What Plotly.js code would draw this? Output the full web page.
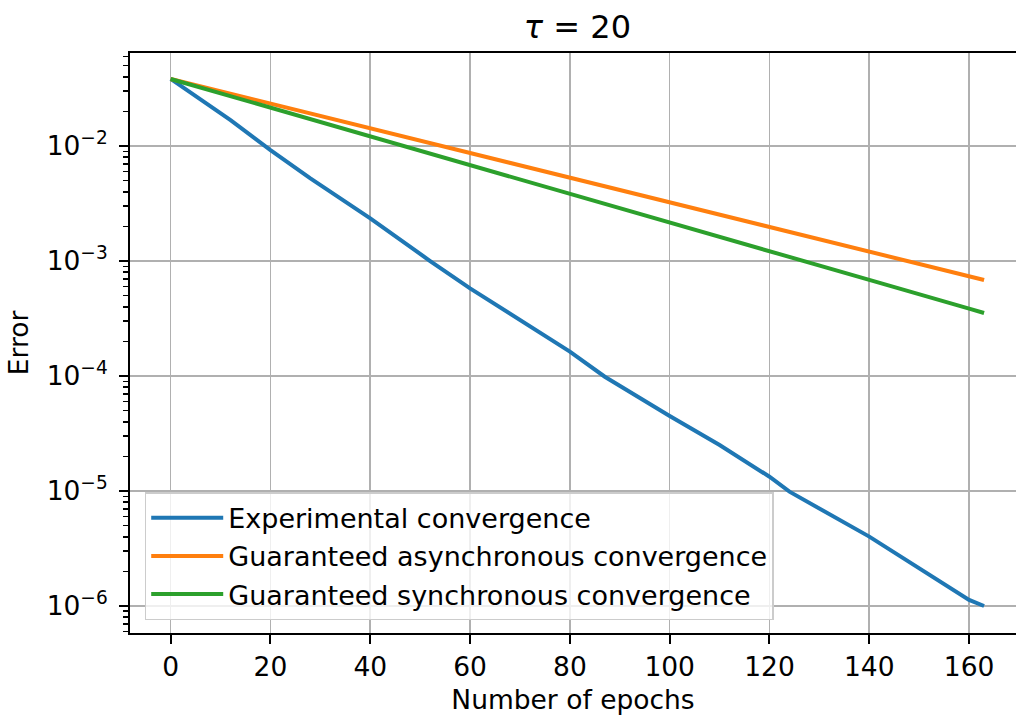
<!DOCTYPE html>
<html>
<head>
<meta charset="utf-8">
<script src="https://cdn.plot.ly/plotly-3.0.1.min.js"></script>
<style>html,body{margin:0;padding:0;background:#fff;}#chart{width:1016px;height:718px;}</style>
</head>
<body>
<div id="chart"></div>
<script>
// ---- data ----
const expEpochs = [0, 5, 12, 20, 28, 40, 46, 52, 60, 66, 73, 80, 87, 100, 110, 120, 124, 140, 160, 163];
const expError  = [0.0383, 0.0269, 0.0168, 0.00923, 0.00524, 0.00235, 0.00152, 0.00100, 5.78e-4, 3.98e-4,
                   2.55e-4, 1.63e-4, 9.86e-5, 4.49e-5, 2.51e-5, 1.33e-5, 9.86e-6, 4.01e-6, 1.13e-6, 1.0e-6];

const guarEpochs = [0, 20, 40, 60, 80, 100, 120, 140, 160, 163];
const asyncError = [0.0383, 0.0234, 0.01426, 0.00871, 0.00531, 0.00324, 0.00198, 0.00121, 7.38e-4, 6.84e-4];
const syncError  = [0.0383, 0.0215, 0.01213, 0.00683, 0.00385, 0.00216, 0.00122, 6.85e-4, 3.86e-4, 3.53e-4];

const seriesNames = ["Experimental convergence", "Guaranteed asynchronous convergence", "Guaranteed synchronous convergence"];
const xTickVals = [0, 20, 40, 60, 80, 100, 120, 140, 160];
const yTickVals = [1e-6, 1e-5, 1e-4, 1e-3, 1e-2];
const yTickText = ["10<sup>\u22126</sup>", "10<sup>\u22125</sup>", "10<sup>\u22124</sup>", "10<sup>\u22123</sup>", "10<sup>\u22122</sup>"];
const titleText = "<i>\u03c4</i> = 20";
const xTitle = "Number of epochs";
const yTitle = "Error";

// minor ticks (2..9 x each decade)
const yMinor = [];
for (let d = -7; d <= -1; d++) for (let k = 2; k <= 9; k++) yMinor.push(k * Math.pow(10, d));

const FONT = "DejaVu Sans";
const FS = 26.5;

const traces = [
  {x: expEpochs, y: expError, name: seriesNames[0], mode: "lines", legendgroup: "a",
   line: {color: "#1f77b4", width: 4}},
  {x: guarEpochs, y: asyncError, name: seriesNames[1], mode: "lines", legendgroup: "b",
   line: {color: "#ff7f0e", width: 4}},
  {x: guarEpochs, y: syncError, name: seriesNames[2], mode: "lines", legendgroup: "c",
   line: {color: "#2ca02c", width: 4}}
];

const layout = {
  width: 1016, height: 718,
  margin: {l: 130.3, r: 0, t: 53, b: 85, pad: 0},
  paper_bgcolor: "#fff", plot_bgcolor: "#fff",
  font: {family: FONT, size: FS, color: "#000"},
  title: {text: titleText, font: {family: FONT, size: 32, color: "#000"},
          x: 0.505, xanchor: "center", y: 0.962, yanchor: "middle", xref: "paper"},
  showlegend: true,
  legend: {x: 0.0166, y: 0.022, xanchor: "left", yanchor: "bottom", xref: "paper", yref: "paper",
           bgcolor: "rgba(255,255,255,0.8)", bordercolor: "#cccccc", borderwidth: 1.5,
           itemwidth: 72,
           font: {family: FONT, size: 27, color: "#000"}, tracegroupgap: 3, traceorder: "normal"},
  xaxis: {
    range: [-8.15, 169.4], tickmode: "array", tickvals: xTickVals,
    showgrid: true, gridcolor: "#b0b0b0", gridwidth: 1.6, zeroline: false,
    showline: true, linecolor: "#000", linewidth: 2, mirror: true,
    ticks: "outside", ticklen: 9, tickwidth: 2, tickcolor: "#000",
    tickfont: {family: FONT, size: FS, color: "#000"},
    title: {text: xTitle, font: {family: FONT, size: FS, color: "#000"}, standoff: 10},
    automargin: false
  },
  yaxis: {
    type: "log", range: [-6.235, -1.191], tickmode: "array", tickvals: yTickVals, ticktext: yTickText,
    showgrid: true, gridcolor: "#b0b0b0", gridwidth: 1.6, zeroline: false,
    showline: true, linecolor: "#000", linewidth: 2, mirror: false,
    ticks: "outside", ticklen: 9, tickwidth: 2, tickcolor: "#000",
    ticklabelstandoff: 6,
    tickfont: {family: FONT, size: FS, color: "#000"},
    minor: {tickmode: "array", tickvals: yMinor, ticks: "outside", ticklen: 5, tickwidth: 1.5,
            tickcolor: "#000", showgrid: false},
    title: {text: yTitle, font: {family: FONT, size: FS, color: "#000"}, standoff: 10},
    automargin: false
  }
};

Plotly.newPlot("chart", traces, layout, {staticPlot: true, displayModeBar: false});
</script>
</body>
</html>
